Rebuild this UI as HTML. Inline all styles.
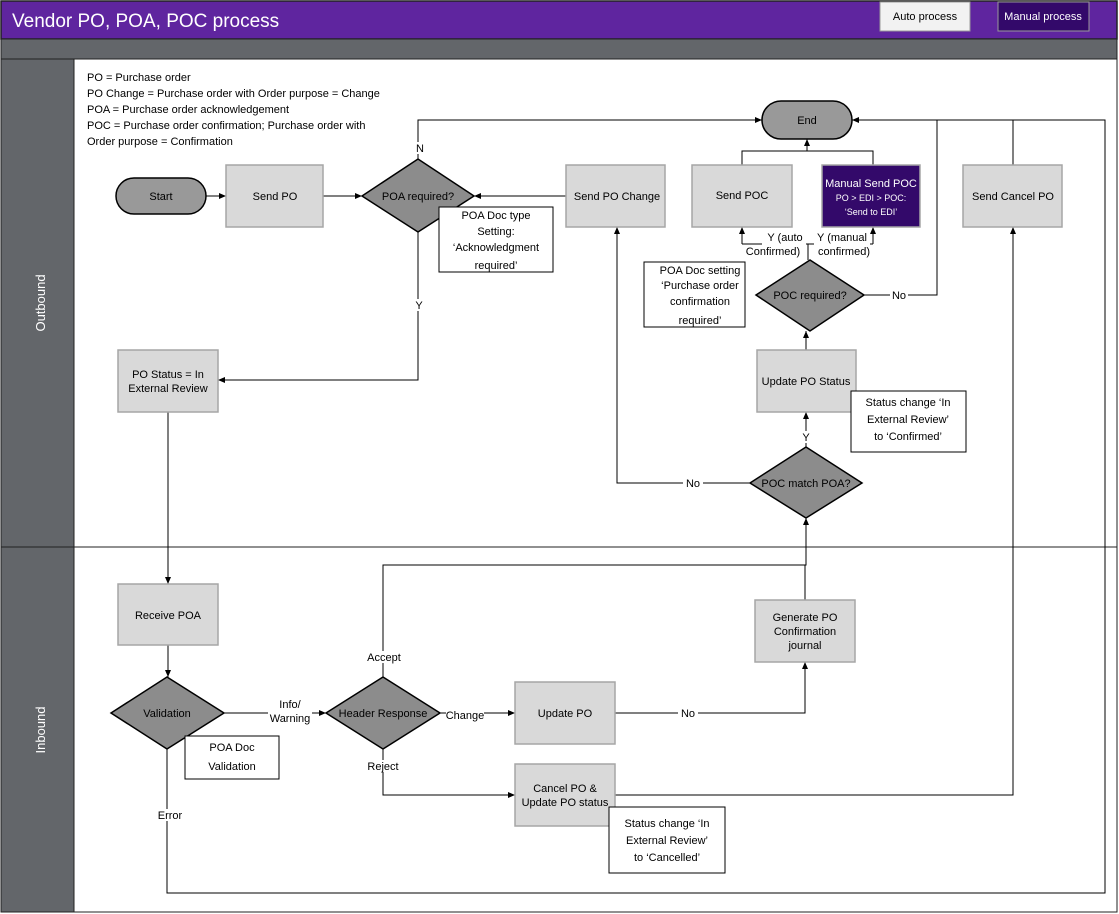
<!DOCTYPE html>
<html><head><meta charset="utf-8"><style>
body{margin:0;background:#fff}
svg{display:block;font-family:"Liberation Sans",sans-serif}
text{font-size:11px;fill:#000}
</style></head><body>
<svg width="1119" height="914" viewBox="0 0 1119 914">
<defs><marker id="a" markerWidth="8" markerHeight="8" refX="7" refY="4" orient="auto" markerUnits="userSpaceOnUse"><path d="M0,1 L7,4 L0,7 Z" fill="#000"/></marker></defs>
<rect x="0" y="0" width="1119" height="914" fill="#fff"/>
<rect x="1" y="1" width="1116" height="38" fill="#5f259f" stroke="#222" stroke-width="1.5"/>
<text x="12" y="27" style="font-size:19px;fill:#fff">Vendor PO, POA, POC process</text>
<rect x="880" y="2" width="90" height="29" fill="#f2f2f2" stroke="#999"/>
<text x="925" y="20" text-anchor="middle" style="font-size:11px">Auto process</text>
<rect x="998" y="2" width="91" height="29" fill="#33096a" stroke="#999"/>
<text x="1043" y="20" text-anchor="middle" style="font-size:11px;fill:#fff">Manual process</text>
<rect x="1" y="39" width="1116" height="20" fill="#63666a" stroke="#222"/>
<rect x="1" y="59" width="73" height="853" fill="#63666a" stroke="#222"/>
<rect x="74" y="59" width="1043" height="853" fill="#fff" stroke="#222"/>
<line x1="1" y1="547" x2="1117" y2="547" stroke="#222"/>
<text transform="translate(45,303) rotate(-90)" text-anchor="middle" style="font-size:13px;fill:#fff">Outbound</text>
<text transform="translate(45,730) rotate(-90)" text-anchor="middle" style="font-size:13px;fill:#fff">Inbound</text>
<g>
<text x="87" y="81">PO = Purchase order</text>
<text x="87" y="97">PO Change = Purchase order with Order purpose = Change</text>
<text x="87" y="113">POA = Purchase order acknowledgement</text>
<text x="87" y="129">POC = Purchase order confirmation; Purchase order with</text>
<text x="87" y="145">Order purpose = Confirmation</text>
</g>
<g fill="none" stroke="#000" stroke-width="1">
<line x1="206" y1="196" x2="226" y2="196" marker-end="url(#a)"/>
<line x1="323" y1="196" x2="362" y2="196" marker-end="url(#a)"/>
<line x1="566" y1="196" x2="474" y2="196" marker-end="url(#a)"/>
<polyline points="418,159 418,120 762,120" marker-end="url(#a)"/>
<polyline points="418,232 418,380 218,380" marker-end="url(#a)"/>
<line x1="168" y1="412" x2="168" y2="584" marker-end="url(#a)"/>
<line x1="168" y1="645" x2="168" y2="677" marker-end="url(#a)"/>
<line x1="224" y1="713" x2="326" y2="713" marker-end="url(#a)"/>
<polyline points="167,749 167,893 1105,893 1105,120 852,120" marker-end="url(#a)"/>
<polyline points="383,677 383,565 806,565 806,518" marker-end="url(#a)"/>
<line x1="805" y1="600" x2="805" y2="565"/>
<line x1="440" y1="713" x2="515" y2="713" marker-end="url(#a)"/>
<polyline points="383,749 383,795 515,795" marker-end="url(#a)"/>
<polyline points="615,713 805,713 805,662" marker-end="url(#a)"/>
<polyline points="615,795 1013,795 1013,227" marker-end="url(#a)"/>
<polyline points="1013,165 1013,120"/>
<polyline points="750,483 617,483 617,227" marker-end="url(#a)"/>
<line x1="806" y1="447" x2="806" y2="412" marker-end="url(#a)"/>
<line x1="806" y1="350" x2="806" y2="331" marker-end="url(#a)"/>
<line x1="808" y1="260" x2="808" y2="244"/>
<polyline points="742,244 873,244"/>
<line x1="742" y1="244" x2="742" y2="227" marker-end="url(#a)"/>
<line x1="873" y1="244" x2="873" y2="227" marker-end="url(#a)"/>
<polyline points="864,295 937,295 937,120"/>
<polyline points="742,165 742,151 873,151 873,165"/>
<line x1="807" y1="151" x2="807" y2="139" marker-end="url(#a)"/>
</g>
<g stroke-width="1.5">
<rect x="116" y="178" width="90" height="36" rx="18" fill="#999" stroke="#000"/>
<rect x="762" y="101" width="90" height="38" rx="19" fill="#999" stroke="#000"/>
<g fill="#d9d9d9" stroke="#a6a6a6">
<rect x="226" y="165" width="97" height="62"/>
<rect x="566" y="165" width="99" height="62"/>
<rect x="692" y="165" width="100" height="62"/>
<rect x="963" y="165" width="99" height="62"/>
<rect x="757" y="350" width="99" height="62"/>
<rect x="118" y="350" width="100" height="62"/>
<rect x="118" y="584" width="100" height="61"/>
<rect x="515" y="682" width="100" height="62"/>
<rect x="515" y="764" width="100" height="62"/>
<rect x="755" y="600" width="100" height="62"/>
</g>
<rect x="822" y="165" width="98" height="62" fill="#33096a" stroke="#a6a6a6"/>
<g fill="#8c8c8c" stroke="#000">
<polygon points="362,196 418,159 474,196 418,232"/>
<polygon points="756,295 810,260 864,295 810,331"/>
<polygon points="750,483 806,447 862,483 806,518"/>
<polygon points="111,713 167,677 224,713 167,749"/>
<polygon points="326,713 383,677 440,713 383,749"/>
</g>
<g fill="#fff" stroke="#000" stroke-width="1">
<rect x="439" y="207" width="114" height="65"/>
<rect x="644" y="262" width="101" height="65"/>
<rect x="851" y="391" width="115" height="61"/>
<rect x="185" y="736" width="94" height="43"/>
<rect x="609" y="807" width="116" height="66"/>
</g>
</g>
<g text-anchor="middle">
<text x="161" y="200">Start</text>
<text x="807" y="124">End</text>
<text x="275" y="200">Send PO</text>
<text x="418" y="200">POA required?</text>
<text x="617" y="200">Send PO Change</text>
<text x="742" y="199">Send POC</text>
<text x="871" y="187" style="fill:#fff">Manual Send POC</text>
<text x="871" y="201" style="fill:#fff;font-size:9px">PO &gt; EDI &gt; POC:</text>
<text x="871" y="215" style="fill:#fff;font-size:9px">‘Send to EDI’</text>
<text x="1013" y="200">Send Cancel PO</text>
<text x="496" y="219">POA Doc type</text>
<text x="496" y="235">Setting:</text>
<text x="496" y="251">‘Acknowledgment</text>
<text x="496" y="269">required’</text>
<text x="700" y="274">POA Doc setting</text>
<text x="700" y="289">‘Purchase order</text>
<text x="700" y="305">confirmation</text>
<text x="700" y="324">required’</text>
<text x="810" y="299">POC required?</text>
<text x="806" y="385">Update PO Status</text>
<text x="908" y="406">Status change ‘In</text>
<text x="908" y="423">External Review’</text>
<text x="908" y="440">to ‘Confirmed’</text>
<text x="806" y="487">POC match POA?</text>
<text x="168" y="378">PO Status = In</text>
<text x="168" y="392">External Review</text>
<text x="168" y="619">Receive POA</text>
<text x="167" y="717">Validation</text>
<text x="232" y="751">POA Doc</text>
<text x="232" y="770">Validation</text>
<text x="383" y="717">Header Response</text>
<text x="565" y="717">Update PO</text>
<text x="565" y="792">Cancel PO &amp;</text>
<text x="565" y="806">Update PO status</text>
<text x="667" y="827">Status change ‘In</text>
<text x="667" y="844">External Review’</text>
<text x="667" y="861">to ‘Cancelled’</text>
<text x="805" y="621">Generate PO</text>
<text x="805" y="635">Confirmation</text>
<text x="805" y="649">journal</text>
</g>
<g text-anchor="middle" style="font-size:10px">
<rect x="414" y="142" width="12" height="12" fill="#fff"/><text x="420" y="152">N</text>
<rect x="413" y="299" width="12" height="12" fill="#fff"/><text x="419" y="309">Y</text>
<rect x="762" y="231" width="44" height="26" fill="#fff"/>
<text x="785" y="241">Y (auto</text><text x="773" y="255">Confirmed)</text>
<rect x="814" y="231" width="56" height="26" fill="#fff"/>
<text x="842" y="241">Y (manual</text><text x="844" y="255">confirmed)</text>
<rect x="890" y="289" width="18" height="12" fill="#fff"/><text x="899" y="299">No</text>
<rect x="800" y="431" width="12" height="12" fill="#fff"/><text x="806" y="441">Y</text>
<rect x="683" y="477" width="20" height="12" fill="#fff"/><text x="693" y="487">No</text>
<rect x="365" y="651" width="38" height="12" fill="#fff"/><text x="384" y="661">Accept</text>
<rect x="268" y="698" width="44" height="26" fill="#fff"/>
<text x="290" y="708">Info/</text><text x="290" y="722">Warning</text>
<rect x="446" y="709" width="38" height="12" fill="#fff"/><text x="465" y="719">Change</text>
<rect x="366" y="760" width="34" height="12" fill="#fff"/><text x="383" y="770">Reject</text>
<rect x="678" y="707" width="20" height="12" fill="#fff"/><text x="688" y="717">No</text>
<rect x="156" y="809" width="30" height="12" fill="#fff"/><text x="170" y="819">Error</text>
</g>
</svg>
</body></html>
